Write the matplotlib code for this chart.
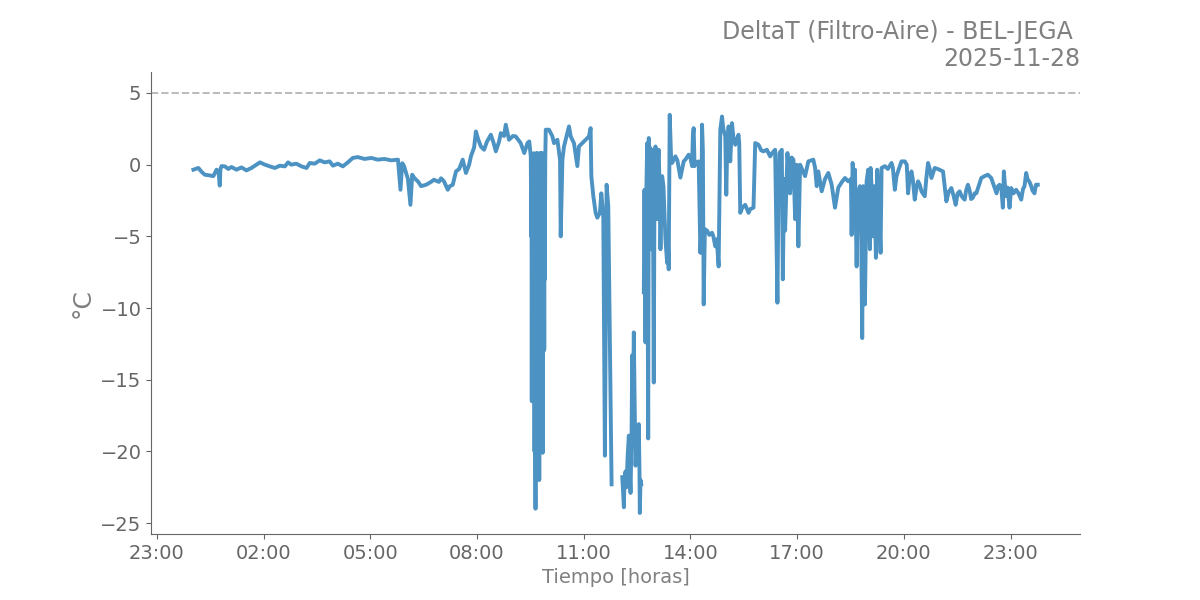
import numpy as np
import pandas as pd
import matplotlib
matplotlib.use("Agg")
import matplotlib.pyplot as plt
import matplotlib.dates as mdates

# =============================================================================
# DATA
# =============================================================================

DAY = "2025-11-28"
TITLE = "DeltaT (Filtro-Aire) - BEL-JEGA \n2025-11-28"
X_LABEL = "Tiempo [horas]"
Y_LABEL = "°C"
LIMIT = 5.0

# Hours since midnight of DAY and DeltaT values, split into segments.
# Segments are joined with a NaN where the record has a gap.

# night, quiet
night_h = [
    0.03, 0.17, 0.26, 0.35, 0.49, 0.59, 0.68, 0.74, 0.77, 0.79,
    0.82, 0.915, 1.01, 1.10, 1.24, 1.38, 1.52, 1.66, 1.80, 1.90,
    2.04, 2.18, 2.32, 2.46, 2.60, 2.69, 2.78, 2.92, 3.07, 3.21,
    3.30, 3.44, 3.58, 3.72, 3.86, 3.95, 4.09, 4.23, 4.37, 4.51,
    4.65, 4.84, 5.03, 5.21, 5.40, 5.59, 5.78,
]
night_dt = [
    -0.35, -0.23, -0.5, -0.7, -0.75, -0.8, -0.35, -0.6, -1.46, -0.3,
    -0.1, -0.12, -0.3, -0.16, -0.35, -0.19, -0.4, -0.23, 0.0, 0.16,
    0.0, -0.12, -0.23, -0.07, -0.12, 0.16, 0.0, 0.07, -0.12, -0.23,
    0.12, 0.07, 0.3, 0.16, 0.23, -0.07, 0.07, -0.12, 0.16, 0.47,
    0.53, 0.4, 0.47, 0.35, 0.4, 0.3, 0.35,
]

# morning rise
morning_h = [
    5.85, 5.90, 5.95, 6.01, 6.06, 6.13, 6.18, 6.23, 6.35, 6.43,
    6.57, 6.71, 6.79, 6.93, 6.99, 7.07, 7.18, 7.24, 7.32, 7.41,
    7.50, 7.60, 7.69, 7.78, 7.83, 7.92, 7.97, 8.03, 8.11, 8.20,
    8.28, 8.39, 8.47, 8.53, 8.62, 8.67, 8.76, 8.81, 8.90, 9.01,
    9.09, 9.23, 9.33, 9.42, 9.47, 9.513,
]
morning_dt = [
    -1.75, 0.1, -0.1, -0.6, -1.0, -2.8, -0.7, -0.9, -1.2, -1.5,
    -1.4, -1.2, -1.05, -1.2, -0.95, -1.15, -1.75, -1.5, -1.4, -0.47,
    -0.3, 0.35, -0.58, 0.0, 0.58, 1.2, 2.32, 1.8, 1.27, 1.04,
    1.6, 2.09, 1.5, 0.93, 1.6, 2.2, 2.0, 2.79, 1.74, 2.0,
    1.97, 1.5, 0.81, 1.51, 1.62, 0.58,
]

# first cold burst (~09:30-09:56)
burst1_h = [
    9.527, 9.534, 9.541, 9.548, 9.555, 9.562, 9.569, 9.576, 9.583, 9.590,
    9.597, 9.604, 9.611, 9.618, 9.625, 9.632, 9.639, 9.646, 9.653, 9.660,
    9.667, 9.674, 9.681, 9.688, 9.695, 9.702, 9.709, 9.716, 9.723, 9.730,
    9.737, 9.744, 9.751, 9.758, 9.765, 9.772, 9.779, 9.786, 9.793, 9.800,
    9.807, 9.814, 9.821, 9.828, 9.835, 9.842, 9.849, 9.856, 9.863, 9.870,
    9.877, 9.884, 9.891, 9.898, 9.905, 9.912, 9.920, 9.934,
]
burst1_dt = [
    -5.0, -2.0, -16.5, -4.0, 0.5, -12.0, -3.0, -16.0, -1.0, -9.0,
    0.8, -15.0, -2.0, -20.0, -6.0, 0.6, -18.0, -24.0, -3.0, -14.0,
    0.8, -10.0, -19.0, -1.5, -8.0, 0.8, -21.0, -4.0, -13.0, 0.5,
    -19.5, -2.0, -22.0, -7.0, 0.8, -16.0, -1.0, -12.0, -20.0, -3.0,
    0.8, -9.0, -2.5, -15.0, 0.8, -6.0, -20.1, -3.0, -12.0, -1.0,
    -13.0, -4.0, -12.9, -2.0, -8.0, -4.3, 0.5, 2.44,
]

# late morning
midday_h = [
    10.026, 10.121, 10.166, 10.261, 10.335, 10.354, 10.402, 10.447, 10.494, 10.542,
    10.587, 10.635, 10.727, 10.822, 10.867, 11.007, 11.148, 11.195, 11.215, 11.271,
    11.336, 11.383, 11.456, 11.495, 11.551, 11.596, 11.644, 11.691, 11.756, 11.784,
]
midday_dt = [
    2.44, 1.97, 1.5, 1.74, 0.35, -5.0, 0.35, 1.27, 1.74, 2.2,
    2.67, 1.97, 1.5, -0.1, 1.27, 1.62, 1.97, 2.55, -0.8, -2.2,
    -3.36, -3.7, -3.36, -2.0, -3.6, -20.3, -1.4, -2.9, -16.4, -22.3,
]

# second cold burst (~12:05-12:37)
burst2_h = [
    12.084, 12.107, 12.129, 12.148, 12.176, 12.204, 12.232, 12.269, 12.288, 12.317,
    12.345, 12.364, 12.387, 12.409, 12.429, 12.457, 12.485, 12.513, 12.549, 12.569,
    12.578, 12.597, 12.617,
]
burst2_dt = [
    -21.8, -22.8, -23.9, -22.0, -21.4, -22.5, -20.5, -18.9, -21.0, -22.9,
    -19.0, -13.3, -17.0, -11.7, -16.0, -21.0, -19.5, -20.5, -18.1, -21.5,
    -24.3, -22.0, -22.3,
]

# afternoon and evening
evening_h = [
    12.690, 12.709, 12.737, 12.760, 12.785, 12.813, 12.830, 12.849, 12.863, 12.897,
    12.925, 12.947, 12.970, 12.990, 13.018, 13.040, 13.065, 13.088, 13.110, 13.130,
    13.158, 13.186, 13.205, 13.242, 13.298, 13.345, 13.370, 13.390, 13.418, 13.458,
    13.485, 13.578, 13.634, 13.718, 13.811, 13.858, 13.951, 13.999, 14.046, 14.069,
    14.091, 14.117, 14.140, 14.232, 14.280, 14.302, 14.327, 14.350, 14.373, 14.406,
    14.467, 14.532, 14.607, 14.644, 14.700, 14.742, 14.793, 14.840, 14.888, 14.924,
    14.980, 15.008, 15.036, 15.073, 15.120, 15.168, 15.204, 15.260, 15.352, 15.372,
    15.401, 15.457, 15.541, 15.633, 15.681, 15.773, 15.821, 15.914, 15.989, 16.054,
    16.149, 16.241, 16.297, 16.381, 16.446, 16.474, 16.502, 16.569, 16.597, 16.634,
    16.662, 16.727, 16.802, 16.844, 16.895, 16.943, 16.985, 17.035, 17.083, 17.223,
    17.315, 17.455, 17.503, 17.550, 17.595, 17.690, 17.783, 17.876, 17.971, 18.064,
    18.156, 18.260, 18.345, 18.436, 18.512, 18.531, 18.559, 18.596, 18.625, 18.672,
    18.709, 18.765, 18.793, 18.829, 18.857, 18.877, 18.905, 18.952, 18.997, 19.017,
    19.045, 19.065, 19.101, 19.138, 19.172, 19.214, 19.250, 19.298, 19.345, 19.373,
    19.466, 19.550, 19.653, 19.690, 19.746, 19.793, 19.858, 19.933, 20.025, 20.081,
    20.118, 20.166, 20.214, 20.250, 20.306, 20.362, 20.399, 20.447, 20.494, 20.587,
    20.629, 20.680, 20.727, 20.775, 20.867, 20.952, 21.036, 21.100, 21.148, 21.195,
    21.260, 21.335, 21.400, 21.456, 21.512, 21.568, 21.624, 21.708, 21.750, 21.800,
    21.848, 21.890, 21.941, 21.988, 22.036, 22.100, 22.176, 22.268, 22.361, 22.456,
    22.493, 22.549, 22.605, 22.647, 22.689, 22.745, 22.782, 22.810, 22.844, 22.877,
    22.914, 22.970, 23.017, 23.082, 23.156, 23.221, 23.298, 23.348, 23.390, 23.438,
    23.475, 23.531, 23.579, 23.615, 23.671, 23.713, 23.764,
]
evening_dt = [
    -8.9, -1.75, -12.4, -2.0, 1.5, -19.1, 1.86, -2.5, 1.2, -5.9,
    1.04, -2.0, -15.2, -1.0, 1.27, -1.5, -3.8, 0.5, 1.04, -1.5,
    -5.9, -2.5, -0.8, -1.5, -5.2, -6.85, -5.5, -7.3, 3.48, 0.35,
    0.12, 0.58, 0.3, -0.9, 0.23, 0.35, 0.7, 0.5, -0.1, 2.0,
    2.55, -0.1, 0.1, 0.23, -6.15, -4.8, 2.79, 1.0, -9.75, -4.5,
    -4.6, -4.9, -4.75, -5.0, -5.7, -5.2, -7.1, 2.44, 3.36, 2.5,
    1.97, -2.1, 1.5, 2.67, 0.23, 2.9, 2.0, 1.39, 2.09, 1.5,
    -3.36, -3.0, -2.8, -3.36, -3.1, -3.0, 1.51, 1.39, 1.0, 0.93,
    1.04, 0.58, 0.8, 1.04, -9.63, -2.0, 0.81, 1.04, -8.0, -1.0,
    -4.6, 0.81, -2.0, 0.5, 0.35, -3.8, 0.0, -5.7, 0.0, -0.8,
    0.23, 0.35, -0.2, -1.5, -0.47, -1.86, -1.0, -0.58, -1.4, -3.0,
    -1.6, -1.2, -0.93, -1.16, -1.0, -4.9, 0.12, -1.2, -0.35, -7.1,
    -2.0, -1.5, -3.0, -12.1, -1.5, -4.0, -9.75, -1.16, -0.35, -3.0,
    -5.9, -0.23, -2.0, -5.0, -1.5, -6.5, -0.35, -2.5, -6.15, -0.23,
    -0.1, -0.3, 0.12, -0.2, -1.75, -0.8, -0.3, 0.23, 0.23, 0.0,
    -2.0, -0.8, -0.47, -1.0, -2.44, -1.5, -1.16, -1.4, -1.86, -2.2,
    -1.0, 0.12, -0.3, -0.93, -0.23, -0.3, -0.4, -0.47, -1.5, -2.56,
    -1.9, -1.63, -2.2, -2.8, -2.0, -1.86, -2.2, -2.44, -1.8, -1.4,
    -1.8, -2.4, -2.3, -2.0, -2.0, -1.5, -0.93, -0.8, -0.7, -0.93,
    -1.2, -1.63, -2.0, -1.5, -1.4, -1.8, -3.0, -0.47, -1.5, -2.2,
    -1.6, -3.0, -1.63, -2.0, -1.75, -2.0, -2.44, -1.7, -1.5, -0.58,
    -1.0, -1.2, -1.5, -1.8, -2.0, -1.4, -1.4,
]

hours = (night_h + morning_h + burst1_h + midday_h + [11.90]
         + burst2_h + [12.65] + evening_h)
delta_t = (night_dt + morning_dt + burst1_dt + midday_dt + [np.nan]
           + burst2_dt + [np.nan] + evening_dt)

# =============================================================================
# STYLE
# =============================================================================

LINE_COLOR = "tab:blue"
TEXT_GREY = "#808080"
TICK_GREY = "#666666"

times = pd.Timestamp(DAY) + pd.to_timedelta(hours, unit="h")

fig = plt.figure(figsize=(12, 6), dpi=100)
ax = fig.add_axes([0.126, 0.11, 0.774, 0.77])

ax.plot(times, delta_t, color=LINE_COLOR, alpha=0.8, linewidth=2.8)
ax.axhline(LIMIT, color="#bbbbbb", linestyle="--", linewidth=1.4)

ax.xaxis.set_major_locator(mdates.HourLocator(byhour=range(2, 24, 3)))
ax.xaxis.set_major_formatter(mdates.DateFormatter("%H:%M"))

ax.set_title(TITLE, loc="right", fontsize=17, color=TEXT_GREY, pad=4)
ax.set_xlabel(X_LABEL, fontsize=14, color=TEXT_GREY)
ax.set_ylabel(Y_LABEL, fontsize=18, color=TEXT_GREY)

for side in ("top", "right"):
    ax.spines[side].set_visible(False)
for side in ("left", "bottom"):
    ax.spines[side].set_color(TICK_GREY)
ax.tick_params(colors=TICK_GREY, labelsize=14, labelcolor=TICK_GREY)

fig.savefig("out.png", dpi=100)
